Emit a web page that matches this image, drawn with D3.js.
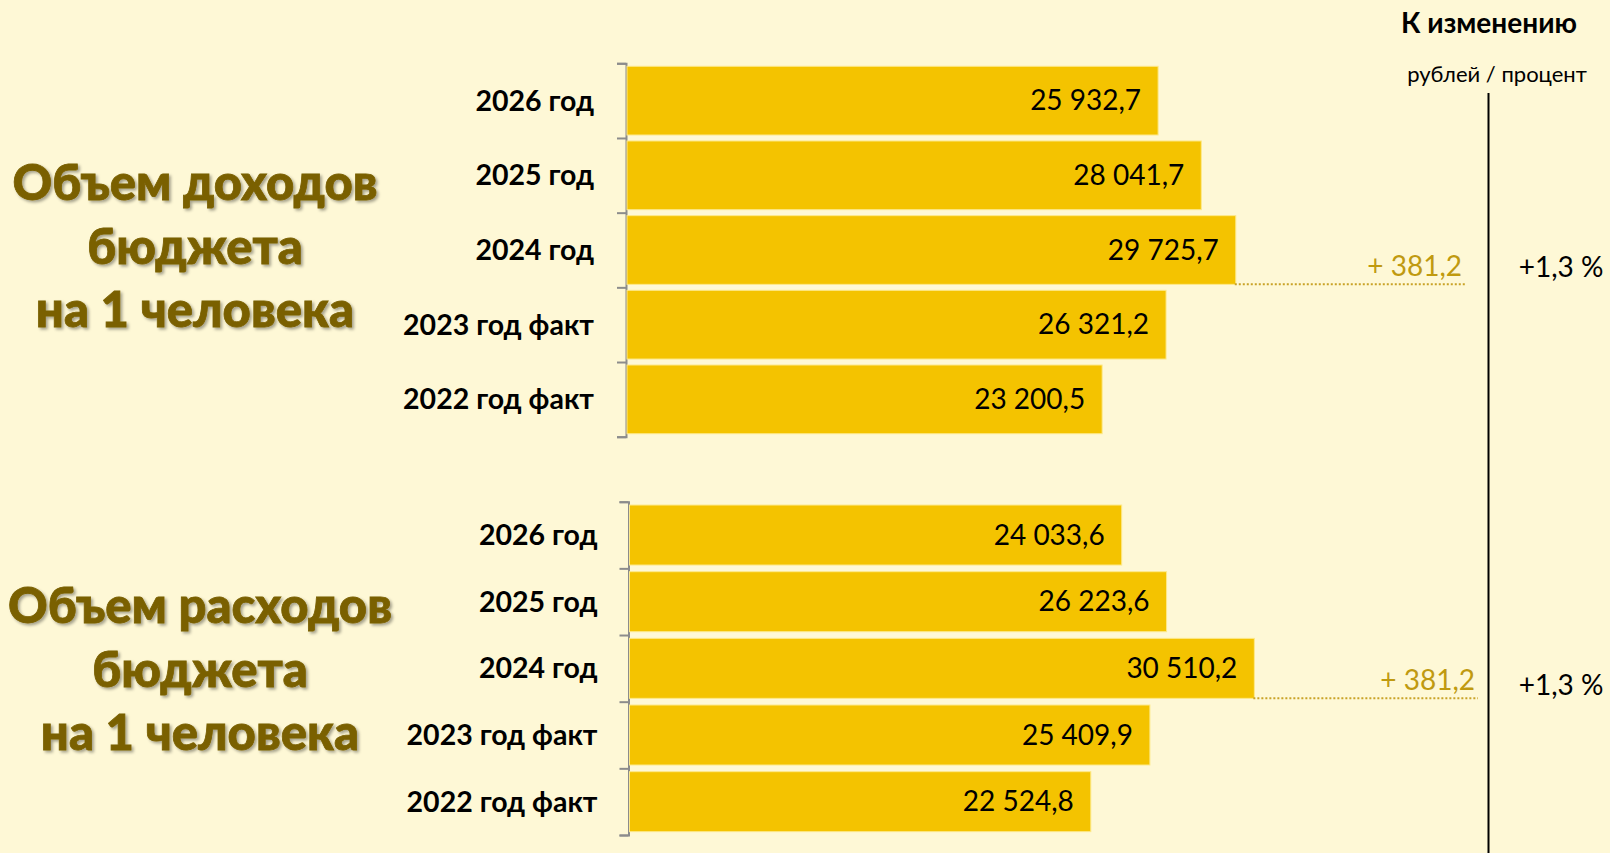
<!DOCTYPE html>
<html>
<head>
<meta charset="utf-8">
<script src="https://cdn.jsdelivr.net/npm/d3@7"></script>
<style>
  html, body { margin: 0; padding: 0; background: #fef8d6; }
  svg { display: block; font-family: Lato, "Open Sans", sans-serif; }
</style>
</head>
<body>
<svg id="chart"></svg>
<script>
// Categories (top to bottom)
const categories = ['2026 год', '2025 год', '2024 год', '2023 год факт', '2022 год факт'];
// Revenue per person, rubles
const incomeValues = [25932.7, 28041.7, 29725.7, 26321.2, 23200.5];
// Spending per person, rubles
const spendValues = [24033.6, 26223.6, 30510.2, 25409.9, 22524.8];
const incomeTitle = ['Объем доходов', 'бюджета', 'на 1 человека'];
const spendTitle = ['Объем расходов', 'бюджета', 'на 1 человека'];
const incomeChange = ['+ 381,2', '+1,3 %'];
const spendChange = ['+ 381,2', '+1,3 %'];
const changeCategory = '2024 год';

const width = 1610, height = 853;
const svg = d3.select('#chart').attr('width', width).attr('height', height);

// drop shadow for the big titles
const defs = svg.append('defs');
defs.append('filter').attr('id', 'shadow')
    .attr('x', '-10%').attr('y', '-20%').attr('width', '130%').attr('height', '150%')
  .append('feDropShadow')
    .attr('dx', 2).attr('dy', 2).attr('stdDeviation', 1.5)
    .attr('flood-color', '#000').attr('flood-opacity', 0.35);

// same value scale for both panels
const xScale = d3.scaleLinear().domain([0, 30000]).range([0, 614.4]);

function drawPanel(cfg) {
  const g = svg.append('g').attr('transform', `translate(${cfg.left},0)`);
  const data = categories.map((c, i) => ({ key: c, value: cfg.values[i] }));

  const yScale = d3.scaleBand()
      .domain(categories)
      .range([cfg.top, cfg.bottom])
      .paddingInner(cfg.pad)
      .paddingOuter(cfg.pad / 2);

  // boundary ticks of the category axis
  const tickScale = d3.scaleLinear().domain([0, categories.length]).range([cfg.top, cfg.bottom]);
  const axisG = g.append('g')
      .call(d3.axisLeft(tickScale).ticks(categories.length).tickSize(9).tickSizeOuter(9).tickFormat(''));
  axisG.selectAll('path, line').attr('stroke', '#8c8c8c').attr('stroke-width', 2);

  g.selectAll('.bar')
    .data(data)
    .join('rect')
      .attr('class', 'bar')
      .attr('x', 1)
      .attr('y', d => yScale(d.key))
      .attr('width', d => xScale(d.value))
      .attr('height', yScale.bandwidth())
      .attr('fill', '#f4c300')
      .attr('stroke', '#fde98a')
      .attr('stroke-width', 1);

  const fmt = v => d3.format(',.1f')(v).replace(/,/g, ' ').replace('.', ',');
  g.selectAll('.val')
    .data(data)
    .join('text')
      .attr('class', 'val')
      .attr('x', d => xScale(d.value) - 16)
      .attr('y', d => yScale(d.key) + yScale.bandwidth() / 2)
      .attr('dy', '0.35em')
      .attr('text-anchor', 'end')
      .attr('font-size', 28)
      .attr('fill', '#000')
      .text(d => fmt(d.value));

  // category labels
  g.selectAll('.cat')
    .data(data)
    .join('text')
      .attr('class', 'cat')
      .attr('x', cfg.labelX - cfg.left)
      .attr('y', d => yScale(d.key) + yScale.bandwidth() / 2)
      .attr('dy', '0.35em')
      .attr('text-anchor', 'end')
      .attr('font-size', 28.5)
      .attr('font-weight', 'bold')
      .attr('fill', '#000')
      .text(d => d.key);

  // change marker on 2024 bar
  const ch = data.find(d => d.key === changeCategory);
  const lineY = yScale(ch.key) + yScale.bandwidth();
  g.append('line')
      .attr('x1', xScale(ch.value))
      .attr('x2', cfg.dotEnd - cfg.left)
      .attr('y1', lineY).attr('y2', lineY)
      .attr('stroke', '#c9a227')
      .attr('stroke-width', 2)
      .attr('stroke-dasharray', '2,2');
  g.append('text')
      .attr('x', cfg.dotEnd - 3 - cfg.left)
      .attr('y', lineY - 8)
      .attr('text-anchor', 'end')
      .attr('font-size', 28)
      .attr('fill', '#c09a10')
      .text(cfg.change[0]);
  g.append('text')
      .attr('x', 1561 - cfg.left)
      .attr('y', lineY - 8 + cfg.pctDy)
      .attr('text-anchor', 'middle')
      .attr('font-size', 28)
      .attr('fill', '#000')
      .text(cfg.change[1]);

  // big title
  svg.append('g')
    .selectAll('text')
    .data(cfg.title)
    .join('text')
      .attr('x', cfg.titleX)
      .attr('y', (d, i) => cfg.titleY + i * 63.5)
      .attr('dy', '0.35em')
      .attr('text-anchor', 'middle')
      .attr('font-size', 49)
      .attr('font-weight', 900)
      .attr('fill', '#7a6000')
      .attr('stroke', '#7a6000')
      .attr('stroke-width', 0.8)
      .attr('filter', 'url(#shadow)')
      .text(d => d);
}

drawPanel({ values: incomeValues, title: incomeTitle, change: incomeChange,
  left: 626, top: 63.3, bottom: 436.7, pad: 0.08, labelX: 594,
  dotEnd: 1465, titleX: 195, titleY: 183, pctDy: 1 });
drawPanel({ values: spendValues, title: spendTitle, change: spendChange,
  left: 628.5, top: 501.7, bottom: 835, pad: 0.1, labelX: 597.5,
  dotEnd: 1478, titleX: 200, titleY: 606, pctDy: 5 });

// right header
svg.append('text')
    .attr('x', 1489).attr('y', 23).attr('dy', '0.35em')
    .attr('text-anchor', 'middle')
    .attr('font-size', 28).attr('font-weight', 'bold')
    .text('К изменению');
svg.append('text')
    .attr('x', 1497).attr('y', 74).attr('dy', '0.35em')
    .attr('text-anchor', 'middle')
    .attr('font-size', 22)
    .text('рублей / процент');
svg.append('line')
    .attr('x1', 1488.5).attr('x2', 1488.5)
    .attr('y1', 93).attr('y2', height)
    .attr('stroke', '#000').attr('stroke-width', 2);
</script>
</body>
</html>
